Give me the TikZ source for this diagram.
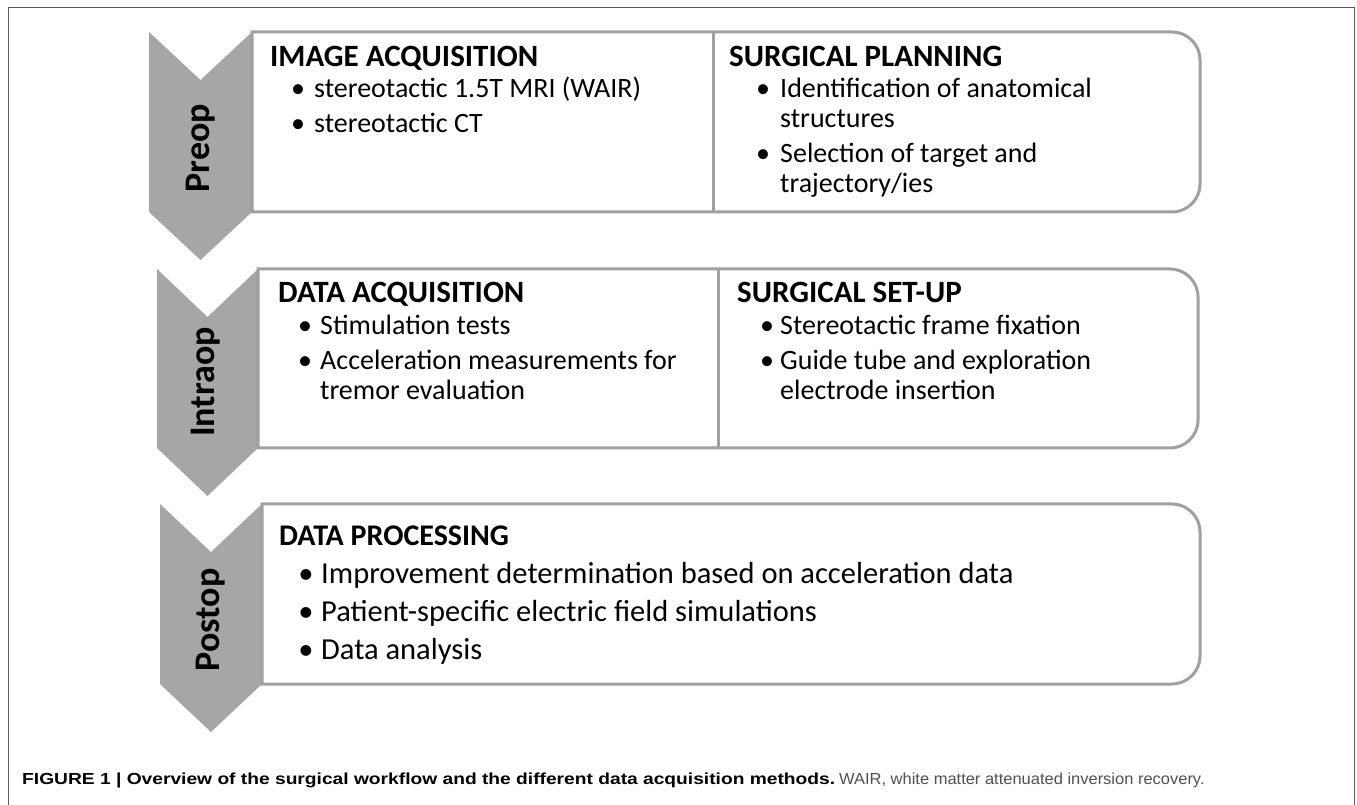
\documentclass[tikz,border=0pt]{standalone}
\usepackage{fontspec}
\setmainfont{Carlito}
\newfontfamily\capfont{Liberation Sans}
\definecolor{chev}{RGB}{166,166,166}
\definecolor{boxline}{RGB}{160,160,160}
\definecolor{framecol}{RGB}{90,90,90}
\definecolor{capgray}{RGB}{80,80,80}
\begin{document}
\begin{tikzpicture}[x=1pt,y=1pt,
  chevron/.style={fill=chev,draw=none},
  rowbox/.style={draw=boxline,line width=3pt,fill=white},
  divider/.style={draw=boxline,line width=3pt},
  hdr/.style={anchor=base west,inner sep=0pt,font=\fontsize{31}{33}\selectfont\bfseries},
  hdrb/.style={anchor=base west,inner sep=0pt,font=\fontsize{30}{32}\selectfont\bfseries},
  itm/.style={anchor=base west,inner sep=0pt,font=\fontsize{28}{30}\selectfont},
  itmb/.style={anchor=base west,inner sep=0pt,font=\fontsize{30.5}{32}\selectfont},
  bul/.style={anchor=base,inner sep=0pt,font=\fontsize{28}{30}\selectfont},
  bulb/.style={anchor=base,inner sep=0pt,font=\fontsize{30.5}{32}\selectfont},
  phase/.style={rotate=90,inner sep=0pt,font=\fontsize{36}{38}\selectfont\bfseries}]
\useasboundingbox (0,0) rectangle (1357,804);
% outer frame
\draw[framecol,line width=1pt] (8,-10) -- (8,796) -- (1354,796) -- (1354,-10);
% chevrons
\path[chevron] (149,772) -- (200.5,724) -- (252,772) -- (252,592) -- (200.5,544) -- (149,592) -- cycle;
\path[chevron] (157,535) -- (207.5,487) -- (258,535) -- (258,356) -- (207.5,308) -- (157,356) -- cycle;
\path[chevron] (160,300) -- (211,252) -- (262,300) -- (262,120) -- (211,72) -- (160,120) -- cycle;
% boxes
\draw[rowbox] (252,772) -- (1172,772) arc[start angle=90,end angle=0,radius=28pt] -- (1200,620) arc[start angle=0,end angle=-90,radius=28pt] -- (252,592) -- cycle;
\draw[divider] (713,772) -- (713,592);
\draw[rowbox] (258,535) -- (1170,535) arc[start angle=90,end angle=0,radius=28pt] -- (1198,384) arc[start angle=0,end angle=-90,radius=28pt] -- (258,356) -- cycle;
\draw[divider] (718,535) -- (718,356);
\draw[rowbox] (262,300) -- (1172,300) arc[start angle=90,end angle=0,radius=28pt] -- (1200,148) arc[start angle=0,end angle=-90,radius=28pt] -- (262,120) -- cycle;
% phase labels
\node[phase] (preop) at (201,656) {Preop};
\node[phase] (intraop) at (206,422) {Intraop};
\node[phase] (postop) at (211,184) {Postop};
% row 1 left
\node[hdr] (h1) at (270,737) {IMAGE ACQUISITION};
\node[bul] (b1a) at (298,706) {•};
\node[itm] (t1a) at (314,706) {stereotactic 1.5T MRI (WAIR)};
\node[bul] (b1b) at (298,671) {•};
\node[itm] (t1b) at (314,671) {stereotactic CT};
% row 1 right
\node[hdr] (h2) at (729,737) {SURGICAL PLANNING};
\node[bul] (b2a) at (763,706) {•};
\node[itm] (t2a) at (780,706) {Identification of anatomical};
\node[itm] (t2a2) at (780,676) {structures};
\node[bul] (b2b) at (763,641) {•};
\node[itm] (t2b) at (780,641) {Selection of target and};
\node[itm] (t2b2) at (780,611) {trajectory/ies};
% row 2 left
\node[hdr] (h3) at (278,501) {DATA ACQUISITION};
\node[bul] (b3a) at (305,469) {•};
\node[itm] (t3a) at (320,469) {Stimulation tests};
\node[bul] (b3b) at (305,434) {•};
\node[itm] (t3b) at (320,434) {Acceleration measurements for};
\node[itm] (t3b2) at (320,404) {tremor evaluation};
% row 2 right
\node[hdr] (h4) at (737,501) {SURGICAL SET-UP};
\node[bul] (b4a) at (767,469) {•};
\node[itm] (t4a) at (780,469) {Stereotactic frame fixation};
\node[bul] (b4b) at (767,434) {•};
\node[itm] (t4b) at (780,434) {Guide tube and exploration};
\node[itm] (t4b2) at (780,404) {electrode insertion};
% row 3
\node[hdrb] (h5) at (279,259) {DATA PROCESSING};
\node[bulb] (b5a) at (306,221) {•};
\node[itmb] (t5a) at (321,221) {Improvement determination based on acceleration data};
\node[bulb] (b5b) at (306,183) {•};
\node[itmb] (t5b) at (321,183) {Patient-specific electric field simulations};
\node[bulb] (b5c) at (306,145) {•};
\node[itmb] (t5c) at (321,145) {Data analysis};
% caption
\node[anchor=base west,inner sep=0pt,font=\capfont\fontsize{16}{18}\selectfont] (cap) at (22,20)
  {\scalebox{1.2}[1]{\textbf{FIGURE 1 | Overview of the surgical workflow and the different data acquisition methods.}}\hspace{4pt}\textcolor{capgray}{\scalebox{1.03}[1]{WAIR, white matter attenuated inversion recovery.}}};
\end{tikzpicture}
\end{document}
